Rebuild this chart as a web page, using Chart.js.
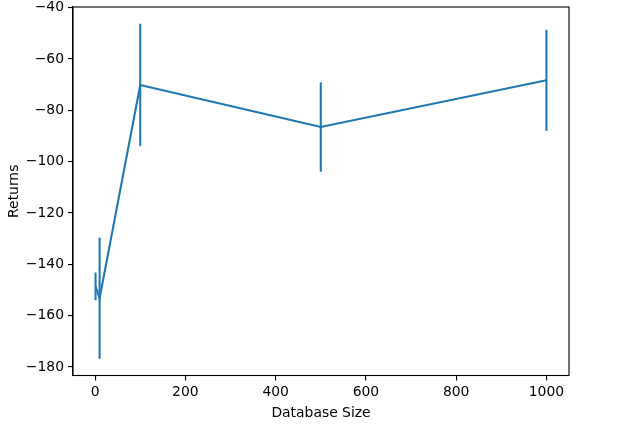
<!DOCTYPE html>
<html>
<head>
<meta charset="utf-8">
<script src="https://cdn.jsdelivr.net/npm/chart.js@4"></script>
<style>
  html, body { margin: 0; padding: 0; background: #fff; }
  #wrap { width: 633px; height: 429px; }
</style>
</head>
<body>
<div id="wrap"><canvas id="myChart" width="633" height="429"></canvas></div>
<script>
'use strict';

let sizes = [1, 10, 100, 500, 1000];
let returns = [-148.6, -153.2, -70.1, -86.5, -68.3];
let errors = [5.4, 23.6, 23.85, 17.4, 19.7];
let xTicks = [0, 200, 400, 600, 800, 1000];
let yTicks = [-180, -160, -140, -120, -100, -80, -60, -40];

let blue = '#1f77b4';
let font = { family: 'DejaVu Sans', size: 13.9 };

// matplotlib style 5% margins around the data (error bars included)
function padRange(lo, hi) {
  let m = (hi - lo) * 0.05;
  return [lo - m, hi + m];
}
let xRange = padRange(Math.min(...sizes), Math.max(...sizes));
let yRange = padRange(
  Math.min(...returns.map((v, i) => v - errors[i])),
  Math.max(...returns.map((v, i) => v + errors[i]))
);

let points = sizes.map((s, i) => ({ x: s, y: returns[i] }));

let errorBars = {
  id: 'errorBars',
  afterDatasetsDraw(chart) {
    let ctx = chart.ctx;
    let xs = chart.scales.x;
    let ys = chart.scales.y;
    ctx.save();
    ctx.strokeStyle = blue;
    ctx.lineWidth = 2.08;
    for (let i = 0; i < sizes.length; i++) {
      let px = xs.getPixelForValue(sizes[i]);
      ctx.beginPath();
      ctx.moveTo(px, ys.getPixelForValue(returns[i] - errors[i]));
      ctx.lineTo(px, ys.getPixelForValue(returns[i] + errors[i]));
      ctx.stroke();
    }
    ctx.restore();
  }
};

let frame = {
  id: 'frame',
  afterDraw(chart) {
    let a = chart.chartArea;
    let ctx = chart.ctx;
    ctx.save();
    ctx.strokeStyle = '#000';
    ctx.lineWidth = 1.1;
    ctx.strokeRect(a.left, a.top, a.right - a.left, a.bottom - a.top);
    ctx.restore();
  }
};

function minus(v) {
  return String(v).replace('-', '\u2212');
}

let chartStuff = {
  type: 'line',
  data: {
    datasets: [{
      data: points,
      borderColor: blue,
      borderWidth: 2.08,
      pointRadius: 0,
      tension: 0,
      fill: false
    }]
  },
  options: {
    responsive: false,
    animation: false,
    layout: { padding: { left: 0, top: 7, right: 64, bottom: 0 } },
    plugins: { legend: { display: false }, tooltip: { enabled: false } },
    scales: {
      x: {
        type: 'linear',
        min: xRange[0],
        max: xRange[1],
        afterBuildTicks: (scale) => { scale.ticks = xTicks.map(v => ({ value: v })); },
        afterFit: (scale) => { scale.height = 53.5; scale.paddingLeft = 0; scale.paddingRight = 0; },
        grid: { drawOnChartArea: false, drawTicks: true, tickLength: 5, color: '#000', lineWidth: 1.1 },
        border: { color: '#000', width: 1.1 },
        ticks: { color: '#000', font: font, padding: 4, maxRotation: 0, callback: (v) => minus(v) },
        title: { display: true, text: 'Database Size', color: '#000', font: font, padding: { top: 2, bottom: 7 } }
      },
      y: {
        type: 'linear',
        min: yRange[0],
        max: yRange[1],
        afterBuildTicks: (scale) => { scale.ticks = yTicks.map(v => ({ value: v })); },
        afterFit: (scale) => { scale.width = 73; scale.paddingTop = 0; scale.paddingBottom = 0; },
        grid: { drawOnChartArea: false, drawTicks: true, tickLength: 5, color: '#000', lineWidth: 1.1 },
        border: { color: '#000', width: 1.1 },
        ticks: { color: '#000', font: font, padding: 4, callback: (v) => minus(v) },
        title: { display: true, text: 'Returns', color: '#000', font: font, padding: { top: 6, bottom: 2 } }
      }
    }
  },
  plugins: [errorBars, frame]
};

const ctx = document.getElementById('myChart').getContext('2d');
// eslint-disable-next-line no-undef
new Chart(ctx, chartStuff);
</script>
</body>
</html>
